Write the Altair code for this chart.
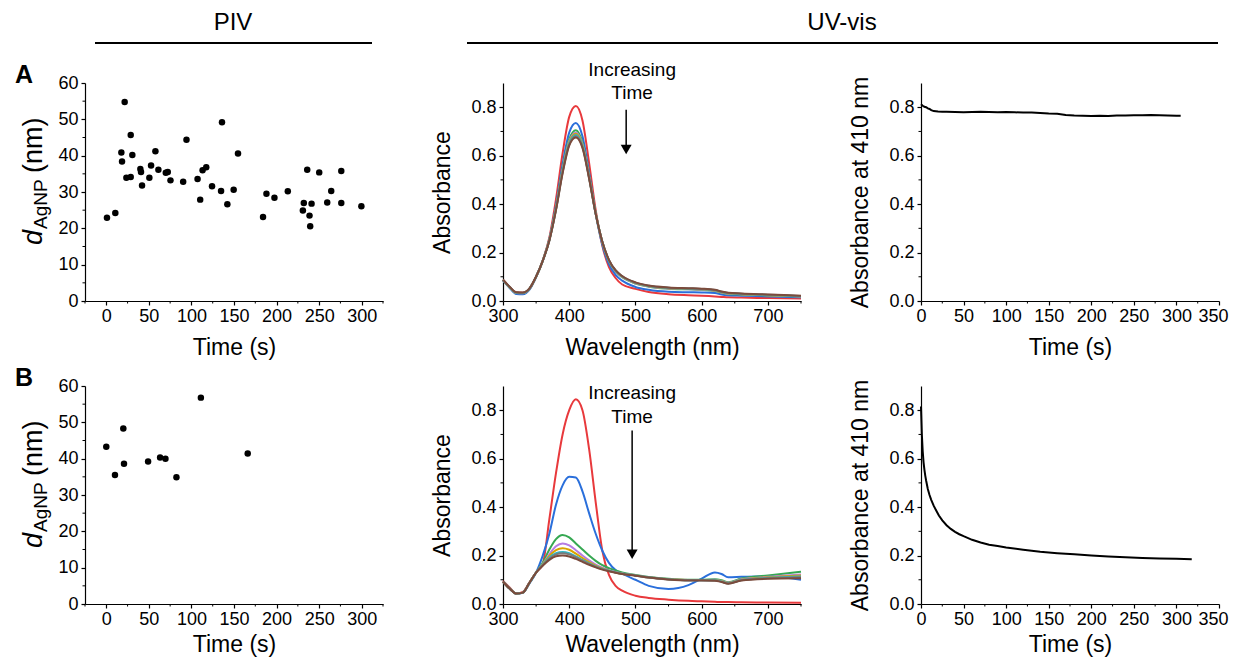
import altair as alt
import pandas as pd

FONT = "Liberation Sans"

# ---------------- data ----------------
piv_a_time = [0.8, 10.6, 17.7, 18.5, 21.6, 23.6, 28.7, 28.7, 30.6, 40.0, 40.8, 42.0, 50.6, 52.6,
              57.7, 61.2, 69.9, 72.2, 75.4, 90.3, 94.2, 107.2, 110.3, 113.1, 117.4, 124.2, 134.8,
              135.9, 142.2, 149.6, 154.7, 184.1, 188.1, 197.5, 213.2, 230.9, 232.0, 236.0, 238.7,
              239.5, 241.1, 250.1, 259.5, 264.2, 276.0, 276.0, 299.6]
piv_a_diam = [22.9, 24.2, 40.9, 38.4, 54.8, 33.9, 45.7, 34.1, 40.2, 36.3, 35.5, 31.8, 33.9, 37.3,
              41.2, 36.1, 35.3, 35.5, 33.2, 32.8, 44.4, 33.6, 27.9, 36.0, 36.8, 31.6, 30.3,
              49.2, 26.6, 30.6, 40.6, 23.1, 29.5, 28.4, 30.2, 24.9, 27.0, 36.1, 23.5,
              20.6, 26.8, 35.4, 27.1, 30.3, 35.8, 27.0, 26.1]

piv_b_time = [0.0, 10.2, 20.0, 20.8, 49.1, 63.2, 69.5, 82.4, 111.1, 166.1]
piv_b_diam = [43.3, 35.5, 48.3, 38.6, 39.2, 40.3, 40.0, 34.9, 56.8, 41.4]

wavelength = [300, 310, 320, 330, 340, 350, 360, 370, 380, 390, 400, 410, 420, 430, 440, 450,
              460, 470, 480, 500, 520, 550, 580, 600, 620, 630, 640, 660, 700, 750]

series_names = ["t1", "t2", "t3", "t4", "t5", "t6", "t7", "t8"]
series_colors = ["#e8393c", "#2a6fdb", "#36a852", "#b57ce3", "#d9a400", "#2fb7c4", "#7a7a7a", "#7b4b3c"]

spec_a_1 = [0.088, 0.058, 0.036, 0.034, 0.050, 0.100, 0.168, 0.262, 0.420, 0.610, 0.760, 0.805, 0.745, 0.570, 0.375,
            0.228, 0.140, 0.095, 0.068, 0.050, 0.037, 0.028, 0.024, 0.022, 0.019, 0.017, 0.015, 0.014, 0.012, 0.010]
spec_a_2 = [0.084, 0.054, 0.029, 0.028, 0.047, 0.098, 0.165, 0.255, 0.395, 0.565, 0.695, 0.735, 0.680, 0.530, 0.360,
            0.232, 0.152, 0.108, 0.084, 0.058, 0.046, 0.038, 0.036, 0.035, 0.033, 0.027, 0.024, 0.022, 0.019, 0.015]
spec_a_3 = [0.086, 0.057, 0.033, 0.032, 0.050, 0.100, 0.166, 0.254, 0.386, 0.548, 0.668, 0.705, 0.655, 0.518, 0.362,
            0.242, 0.165, 0.122, 0.098, 0.072, 0.059, 0.051, 0.048, 0.046, 0.041, 0.034, 0.029, 0.027, 0.023, 0.019]
spec_a_4 = [0.086, 0.057, 0.033, 0.032, 0.050, 0.100, 0.166, 0.253, 0.383, 0.542, 0.660, 0.695, 0.648, 0.514, 0.361,
            0.243, 0.166, 0.123, 0.099, 0.073, 0.060, 0.052, 0.049, 0.047, 0.042, 0.035, 0.030, 0.028, 0.024, 0.019]
spec_a_5 = [0.086, 0.057, 0.034, 0.033, 0.051, 0.100, 0.166, 0.252, 0.381, 0.538, 0.655, 0.690, 0.644, 0.512, 0.361,
            0.244, 0.167, 0.124, 0.100, 0.074, 0.061, 0.053, 0.050, 0.048, 0.043, 0.036, 0.031, 0.028, 0.024, 0.020]
spec_a_6 = [0.087, 0.058, 0.034, 0.033, 0.051, 0.101, 0.166, 0.251, 0.379, 0.535, 0.651, 0.685, 0.640, 0.510, 0.360,
            0.244, 0.168, 0.125, 0.101, 0.075, 0.062, 0.054, 0.051, 0.049, 0.044, 0.037, 0.032, 0.029, 0.025, 0.020]
spec_a_7 = [0.087, 0.058, 0.035, 0.034, 0.052, 0.101, 0.166, 0.250, 0.377, 0.531, 0.646, 0.680, 0.636, 0.508, 0.360,
            0.245, 0.169, 0.126, 0.102, 0.076, 0.063, 0.055, 0.052, 0.050, 0.045, 0.038, 0.033, 0.030, 0.026, 0.021]
spec_a_8 = [0.088, 0.059, 0.036, 0.035, 0.052, 0.101, 0.166, 0.249, 0.375, 0.527, 0.642, 0.675, 0.632, 0.506, 0.359,
            0.245, 0.170, 0.127, 0.103, 0.077, 0.064, 0.056, 0.053, 0.051, 0.046, 0.039, 0.034, 0.031, 0.027, 0.022]

spec_b_1 = [0.095, 0.068, 0.043, 0.050, 0.090, 0.130, 0.165, 0.350, 0.540, 0.700, 0.800, 0.845, 0.800, 0.640, 0.420,
            0.220, 0.120, 0.075, 0.055, 0.034, 0.025, 0.018, 0.013, 0.011, 0.009, 0.008, 0.008, 0.007, 0.006, 0.005]
spec_b_2 = [0.092, 0.064, 0.042, 0.046, 0.085, 0.130, 0.200, 0.290, 0.410, 0.490, 0.525, 0.522, 0.465, 0.375, 0.290,
            0.220, 0.170, 0.140, 0.125, 0.100, 0.075, 0.062, 0.078, 0.105, 0.130, 0.124, 0.110, 0.112, 0.115, 0.100]
spec_b_3 = [0.092, 0.064, 0.043, 0.047, 0.088, 0.130, 0.170, 0.225, 0.268, 0.285, 0.275, 0.250, 0.225, 0.200, 0.178,
            0.160, 0.148, 0.138, 0.130, 0.120, 0.112, 0.104, 0.100, 0.100, 0.102, 0.098, 0.090, 0.105, 0.118, 0.133]
spec_b_4 = [0.092, 0.064, 0.043, 0.047, 0.088, 0.130, 0.165, 0.205, 0.238, 0.250, 0.242, 0.222, 0.200, 0.180, 0.163,
            0.150, 0.140, 0.132, 0.126, 0.118, 0.110, 0.102, 0.099, 0.099, 0.100, 0.095, 0.088, 0.102, 0.112, 0.122]
spec_b_5 = [0.092, 0.064, 0.043, 0.047, 0.088, 0.130, 0.163, 0.198, 0.222, 0.230, 0.224, 0.208, 0.190, 0.173, 0.158,
            0.147, 0.138, 0.130, 0.125, 0.118, 0.110, 0.102, 0.099, 0.099, 0.099, 0.094, 0.087, 0.100, 0.110, 0.118]
spec_b_6 = [0.092, 0.064, 0.043, 0.047, 0.088, 0.130, 0.161, 0.192, 0.210, 0.215, 0.210, 0.197, 0.182, 0.168, 0.155,
            0.145, 0.137, 0.130, 0.125, 0.118, 0.110, 0.102, 0.098, 0.098, 0.098, 0.093, 0.086, 0.099, 0.108, 0.114]
spec_b_7 = [0.092, 0.064, 0.043, 0.047, 0.088, 0.130, 0.160, 0.188, 0.205, 0.210, 0.205, 0.193, 0.179, 0.166, 0.154,
            0.144, 0.136, 0.130, 0.124, 0.117, 0.109, 0.101, 0.098, 0.098, 0.097, 0.092, 0.085, 0.098, 0.106, 0.110]
spec_b_8 = [0.092, 0.064, 0.043, 0.047, 0.088, 0.130, 0.158, 0.182, 0.197, 0.200, 0.196, 0.186, 0.174, 0.162, 0.151,
            0.142, 0.135, 0.129, 0.124, 0.117, 0.109, 0.101, 0.097, 0.097, 0.096, 0.091, 0.084, 0.097, 0.104, 0.106]

kin_a_time = [0, 2, 4, 6, 8, 10, 12, 15, 20, 25, 30, 40, 50, 60, 70, 80, 90, 100, 110, 120, 130, 140, 150,
              160, 170, 180, 190, 200, 210, 220, 230, 240, 250, 260, 270, 280, 290, 300, 305]
kin_a_abs = [0.812, 0.806, 0.802, 0.800, 0.795, 0.793, 0.788, 0.784, 0.782, 0.781, 0.781, 0.780, 0.779, 0.780,
             0.781, 0.780, 0.779, 0.780, 0.779, 0.778, 0.778, 0.776, 0.774, 0.773, 0.768, 0.766, 0.765, 0.764,
             0.765, 0.764, 0.766, 0.766, 0.767, 0.767, 0.768, 0.767, 0.766, 0.765, 0.765]

kin_b_time = [0, 1, 2, 3, 4, 5, 6, 8, 10, 12, 15, 18, 21, 25, 30, 35, 40, 45, 50, 60, 70, 80, 90, 100,
              120, 140, 160, 180, 200, 220, 240, 260, 280, 300, 318]
kin_b_abs = [0.815, 0.700, 0.630, 0.585, 0.555, 0.530, 0.510, 0.475, 0.450, 0.430, 0.405, 0.385, 0.365,
             0.345, 0.325, 0.310, 0.298, 0.288, 0.280, 0.265, 0.254, 0.245, 0.239, 0.233, 0.224, 0.216,
             0.210, 0.205, 0.200, 0.196, 0.193, 0.190, 0.188, 0.187, 0.185]

piv_x_ticks = [0, 50, 100, 150, 200, 250, 300]
piv_x_minor = [-25, 25, 75, 125, 175, 225, 275, 325]
piv_y_ticks = [0, 10, 20, 30, 40, 50, 60]
piv_y_minor = [5, 15, 25, 35, 45, 55]
uv_x_ticks = [300, 400, 500, 600, 700]
uv_x_minor = [350, 450, 550, 650, 750]
abs_ticks = [0.0, 0.2, 0.4, 0.6, 0.8]
abs_minor = [0.1, 0.3, 0.5, 0.7]
kin_x_ticks = [0, 50, 100, 150, 200, 250, 300, 350]
kin_x_minor = [25, 75, 125, 175, 225, 275, 325]

arrow_a = {"x": [486], "top": [0.79], "bottom": [0.63], "head": [0.625]}
arrow_b = {"x": [495], "top": [0.716], "bottom": [0.21], "head": [0.205]}
label_a = {"x": [495, 495], "y": [0.952, 0.857], "t": ["Increasing", "Time"]}
label_b = {"x": [495, 495], "y": [0.872, 0.773], "t": ["Increasing", "Time"]}

# ---------------- layout helpers ----------------
PW, PH = 298, 218
ONE = pd.DataFrame({"k": [0]})


def fixed_text(txt, x, y, size, **kw):
    return alt.Chart(ONE).mark_text(text=txt, font=FONT, fontSize=size, color="black", **kw).encode(
        x=alt.value(x), y=alt.value(y))


def fixed_rule(x1, x2, y, width=2):
    return alt.Chart(ONE).mark_rule(color="black", strokeWidth=width).encode(
        x=alt.value(x1), x2=alt.value(x2), y=alt.value(y))


def minor_ticks(xvals, yvals, xs, ys, xax, yax):
    mx = alt.Chart(pd.DataFrame({"m": xvals})).mark_rule(color="black", strokeWidth=1).encode(
        x=alt.X("m:Q", scale=xs, axis=xax), y=alt.value(PH), y2=alt.value(PH + 2.5))
    my = alt.Chart(pd.DataFrame({"m": yvals})).mark_rule(color="black", strokeWidth=1).encode(
        y=alt.Y("m:Q", scale=ys, axis=yax), x=alt.value(0), x2=alt.value(-2.5))
    return [mx, my]


piv_xs = alt.Scale(domain=[-25, 325], nice=False, zero=False)
piv_ys = alt.Scale(domain=[0, 60], nice=False, zero=False)
uv_xs = alt.Scale(domain=[300, 750], nice=False, zero=False)
abs_ys = alt.Scale(domain=[0, 0.9], nice=False, zero=False)
kin_xs = alt.Scale(domain=[0, 350], nice=False, zero=False)


def xpad(bottom_row):
    return 5 if bottom_row else 11


def piv_panel(times, diams, letter, header, bottom_row):
    xax = alt.Axis(values=piv_x_ticks, title="Time (s)", format="d", titlePadding=xpad(bottom_row))
    yax = alt.Axis(values=piv_y_ticks, title=None, format="d")
    df = pd.DataFrame({"time": times, "d": diams})
    pts = alt.Chart(df).mark_circle(size=42, color="black", opacity=1).encode(
        x=alt.X("time:Q", scale=piv_xs, axis=xax),
        y=alt.Y("d:Q", scale=piv_ys, axis=yax),
    )
    layers = [pts] + minor_ticks(piv_x_minor, piv_y_minor, piv_xs, piv_ys, xax, yax)
    layers += [
        fixed_text("d", -43, 162, 27, angle=270, align="left", baseline="alphabetic", fontStyle="italic"),
        fixed_text("AgNP", -38, 146, 19, angle=270, align="left", baseline="alphabetic"),
        fixed_text("(nm)", -43, 90, 27, angle=270, align="left", baseline="alphabetic"),
        fixed_text(letter, -61, -8, 25, fontWeight="bold", align="center", baseline="middle"),
    ]
    if header:
        layers += [fixed_text("PIV", 148, -60, 24, align="center", baseline="middle"),
                   fixed_rule(10, 287, -40)]
    return alt.layer(*layers).properties(width=PW, height=PH)


def uv_panel(spectra, arrow, label, header, bottom_row):
    xax = alt.Axis(values=uv_x_ticks, title="Wavelength (nm)", format="d", titlePadding=xpad(bottom_row))
    yax = alt.Axis(values=abs_ticks, title="Absorbance", format=".1f")
    rows = []
    for name, vals in zip(series_names, spectra):
        for w, v in zip(wavelength, vals):
            rows.append({"wl": w, "a": v, "s": name})
    df = pd.DataFrame(rows)
    lines = alt.Chart(df).mark_line(strokeWidth=2, interpolate="monotone").encode(
        x=alt.X("wl:Q", scale=uv_xs, axis=xax),
        y=alt.Y("a:Q", scale=abs_ys, axis=yax),
        color=alt.Color("s:N", scale=alt.Scale(domain=series_names, range=series_colors), legend=None),
    )
    adf = pd.DataFrame(arrow)
    shaft = alt.Chart(adf).mark_rule(color="black", strokeWidth=1.5).encode(
        x=alt.X("x:Q", scale=uv_xs, axis=xax), y=alt.Y("top:Q", scale=abs_ys, axis=yax), y2="bottom:Q")
    head = alt.Chart(adf).mark_point(shape="triangle-down", filled=True, size=120, color="black",
                                     opacity=1).encode(
        x=alt.X("x:Q", scale=uv_xs, axis=xax), y=alt.Y("head:Q", scale=abs_ys, axis=yax))
    txt = alt.Chart(pd.DataFrame(label)).mark_text(font=FONT, fontSize=19, color="black",
                                                   baseline="middle").encode(
        x=alt.X("x:Q", scale=uv_xs, axis=xax), y=alt.Y("y:Q", scale=abs_ys, axis=yax), text="t:N")
    layers = [lines, shaft, head, txt] + minor_ticks(uv_x_minor, abs_minor, uv_xs, abs_ys, xax, yax)
    if header:
        layers += [fixed_text("UV-vis", 339, -60, 24, align="center", baseline="middle"),
                   fixed_rule(-36, 715, -40)]
    return alt.layer(*layers).properties(width=PW, height=PH)


def kin_panel(times, vals, bottom_row):
    xax = alt.Axis(values=kin_x_ticks, title="Time (s)", format="d", titlePadding=xpad(bottom_row),
                   labelOffset={"condition": {"test": "datum.value == 350", "value": -6}, "value": 0})
    yax = alt.Axis(values=abs_ticks, title="Absorbance at 410 nm", format=".1f")
    df = pd.DataFrame({"time": times, "a": vals})
    line = alt.Chart(df).mark_line(color="black", strokeWidth=2).encode(
        x=alt.X("time:Q", scale=kin_xs, axis=xax),
        y=alt.Y("a:Q", scale=abs_ys, axis=yax),
    )
    layers = [line] + minor_ticks(kin_x_minor, abs_minor, kin_xs, abs_ys, xax, yax)
    return alt.layer(*layers).properties(width=PW, height=PH)


specs_a = [spec_a_1, spec_a_2, spec_a_3, spec_a_4, spec_a_5, spec_a_6, spec_a_7, spec_a_8]
specs_b = [spec_b_1, spec_b_2, spec_b_3, spec_b_4, spec_b_5, spec_b_6, spec_b_7, spec_b_8]

panels = [
    piv_panel(piv_a_time, piv_a_diam, "A", True, False),
    uv_panel(specs_a, arrow_a, label_a, True, False),
    kin_panel(kin_a_time, kin_a_abs, False),
    piv_panel(piv_b_time, piv_b_diam, "B", False, True),
    uv_panel(specs_b, arrow_b, label_b, False, True),
    kin_panel(kin_b_time, kin_b_abs, True),
]

SVG_W, SVG_H = 1222, 650
PAD_L, PAD_T = 77, 75

chart = alt.concat(
    *panels, columns=3, spacing=alt.RowColnumber(row=85, column=120), bounds="flush"
).properties(
    autosize=alt.AutoSizeParams(type="none"),
    padding={"left": PAD_L, "top": PAD_T, "right": SVG_W - PAD_L, "bottom": SVG_H - PAD_T},
).configure_axis(
    domainColor="black", domainWidth=1.2, tickColor="black", tickWidth=1.2, tickSize=4,
    labelFont=FONT, labelFontSize=18, labelColor="black",
    titleFont=FONT, titleFontSize=23, titleFontWeight="normal", titleColor="black",
    grid=False, labelFlush=False, labelOverlap=False,
).configure_axisX(labelPadding=2).configure_axisY(
    labelPadding=3, titlePadding=16
).configure_view(stroke=None)

chart.save("out.html", embed_options={"renderer": "svg", "actions": False})
